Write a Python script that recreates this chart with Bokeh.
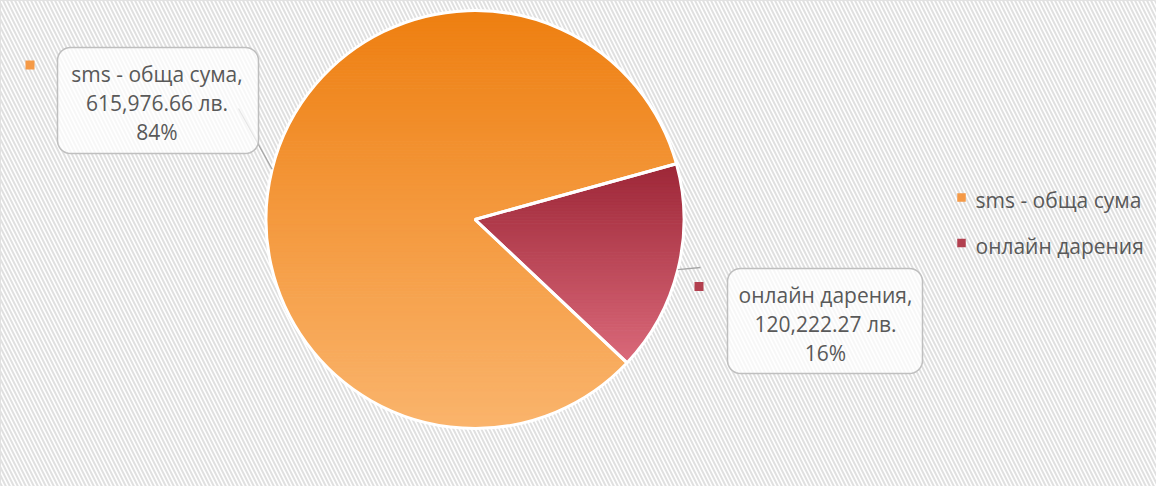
import numpy as np
from bokeh.plotting import figure
from bokeh.models import Range1d
from bokeh.core.properties import value
from bokeh.embed import file_html
from bokeh.resources import INLINE

# ---------------- data ----------------
categories = ["sms - обща сума", "онлайн дарения"]
amounts = [615976.66, 120222.27]
currency = "лв."

# ---------------- style / layout ----------------
W, H = 1156, 486
OFF = 0  # page offset of the figure as rendered
FONT = "Open Sans"
TXT = "#595959"
FIRST_SLICE_ANGLE = 133.3  # deg, clockwise from 12 o'clock (Excel style)
grad_top = ["#EE7F11", "#9D2637"]
grad_bot = ["#FAB46C", "#DA6A7A"]
key_colors = ["#F59A47", "#B2404F"]
TEXT_SHIFT = 6  # px upward correction of baselines

def X(sx):
    return sx - OFF

def Y(sy):
    return H - (sy - OFF)

cx, cy, R = X(474.5), Y(219), 209.0

p = figure(width=W, height=H, output_backend="svg", toolbar_location=None,
           x_range=Range1d(0, W), y_range=Range1d(0, H), min_border=0)
p.axis.visible = False
p.grid.visible = False
p.outline_line_color = "#D9D9D9"
p.background_fill_color = "white"
p.border_fill_color = "white"

# hatched background
p.quad(left=[0], right=[W], bottom=[0], top=[H], fill_color="white",
       hatch_pattern="left_diagonal_line", hatch_color="#E0E0E0",
       hatch_weight=2.0, hatch_scale=8, line_alpha=0)

# ---------------- angles from data ----------------
vals = np.array(amounts)
fr = vals / vals.sum()
spans = fr * 2 * np.pi
a = np.deg2rad(90 - FIRST_SLICE_ANGLE)
starts, ends = [], []
cur = a
for s in spans:          # clockwise order
    ends.append(cur)
    starts.append(cur - s)
    cur = cur - s
mids = [(s + e) / 2 for s, e in zip(starts, ends)]


def hex2rgb(h):
    h = h.lstrip("#")
    return np.array([int(h[i:i + 2], 16) for i in (0, 2, 4)], dtype=float)


def rgb2hex(c):
    return "#%02x%02x%02x" % tuple(int(round(v)) for v in c)


def clip(poly, y0, above):
    out = []
    n = len(poly)
    for i in range(n):
        c = poly[i]
        pr = poly[i - 1]
        cin = c[1] >= y0 if above else c[1] <= y0
        pin = pr[1] >= y0 if above else pr[1] <= y0
        if cin:
            if not pin:
                t = (y0 - pr[1]) / (c[1] - pr[1])
                out.append((pr[0] + t * (c[0] - pr[0]), y0))
            out.append(c)
        elif pin:
            t = (y0 - pr[1]) / (c[1] - pr[1])
            out.append((pr[0] + t * (c[0] - pr[0]), y0))
    return out


bx, by, bc = [], [], []
for i in range(len(vals)):
    angs = np.linspace(starts[i], ends[i], 600)
    poly = [(cx, cy)] + [(cx + R * np.cos(t), cy + R * np.sin(t)) for t in angs]
    ys_all = [q[1] for q in poly]
    ytop, ybot = max(ys_all), min(ys_all)
    c0, c1 = hex2rgb(grad_top[i]), hex2rgb(grad_bot[i])
    nb = int((ytop - ybot) / 3) + 1
    edges = np.linspace(ytop, ybot, nb + 1)
    for k in range(nb):
        hi, lo = edges[k], edges[k + 1]
        band = clip(clip(poly, lo, True), hi, False)
        if len(band) < 3:
            continue
        f = (k + 0.5) / nb
        col = rgb2hex(c0 + (c1 - c0) * f)
        bx.append([q[0] for q in band])
        by.append([q[1] for q in band])
        bc.append(col)

p.patches(bx, by, fill_color=bc, line_color=bc, line_width=1)

# white slice borders
p.wedge(x=[cx] * len(vals), y=[cy] * len(vals), radius=R,
        start_angle=starts, end_angle=ends, fill_alpha=0,
        line_color="white", line_width=3)

# ---------------- data labels ----------------
boxes = [(57, 47, 258, 153), (727, 268, 922, 373)]       # screen coords
leader_end = [(238, 108), (700, 267)]
key_pos = [(29.5, 64.5), (698.5, 286)]
line_base = [[79.3, 108.5, 137.8], [300, 329, 358.3]]
text_cx = [156.5, 825]

def rounded_rect(x0, y0, x1, y1, r, n=10):
    pts = []
    corners = [(x1 - r, y0 - r, 0), (x0 + r, y0 - r, 90),
               (x0 + r, y1 + r, 180), (x1 - r, y1 + r, 270)]
    for (ccx, ccy, a0) in corners:
        for t in np.linspace(np.deg2rad(a0), np.deg2rad(a0 + 90), n):
            pts.append((ccx + r * np.cos(t), ccy + r * np.sin(t)))
    return [q[0] for q in pts], [q[1] for q in pts]

for i in range(len(vals)):
    mx, my = cx + R * np.cos(mids[i]), cy + R * np.sin(mids[i])
    ex, ey = leader_end[i]
    p.line([mx, X(ex)], [my, Y(ey)], line_color="#A6A6A6", line_width=1.3)
    x0, y0, x1, y1 = boxes[i]
    rx, ry = rounded_rect(X(x0), Y(y0), X(x1), Y(y1), 13)
    p.patch(rx, ry, fill_color="white", fill_alpha=0.72,
            line_color="#BFBFBF", line_width=1.5)
    lines = [f"{categories[i]},", f"{amounts[i]:,.2f} {currency}",
             f"{fr[i] * 100:.0f}%"]
    p.text(x=[X(text_cx[i])] * 3, y=[Y(b - TEXT_SHIFT) for b in line_base[i]],
           text=lines, text_font=value(FONT), text_font_size="21px",
           text_color=TXT, text_align="center", text_baseline="alphabetic")
    kx, ky = key_pos[i]
    p.rect(x=[X(kx)], y=[Y(ky)], width=9, height=9, fill_color=key_colors[i],
           line_color=None)

# ---------------- legend ----------------
leg_key_x = 961
leg_text_x = 975
leg_base = [205, 251]
leg_key_y = [197, 242.5]
for i in range(len(categories)):
    p.rect(x=[X(leg_key_x)], y=[Y(leg_key_y[i])], width=8.5, height=8.5,
           fill_color=key_colors[i], line_color=None)
    p.text(x=[X(leg_text_x)], y=[Y(leg_base[i] - TEXT_SHIFT)], text=[categories[i]],
           text_font=value(FONT), text_font_size="21px", text_color=TXT,
           text_align="left", text_baseline="alphabetic")

open("out.html", "w").write(file_html(p, INLINE))
